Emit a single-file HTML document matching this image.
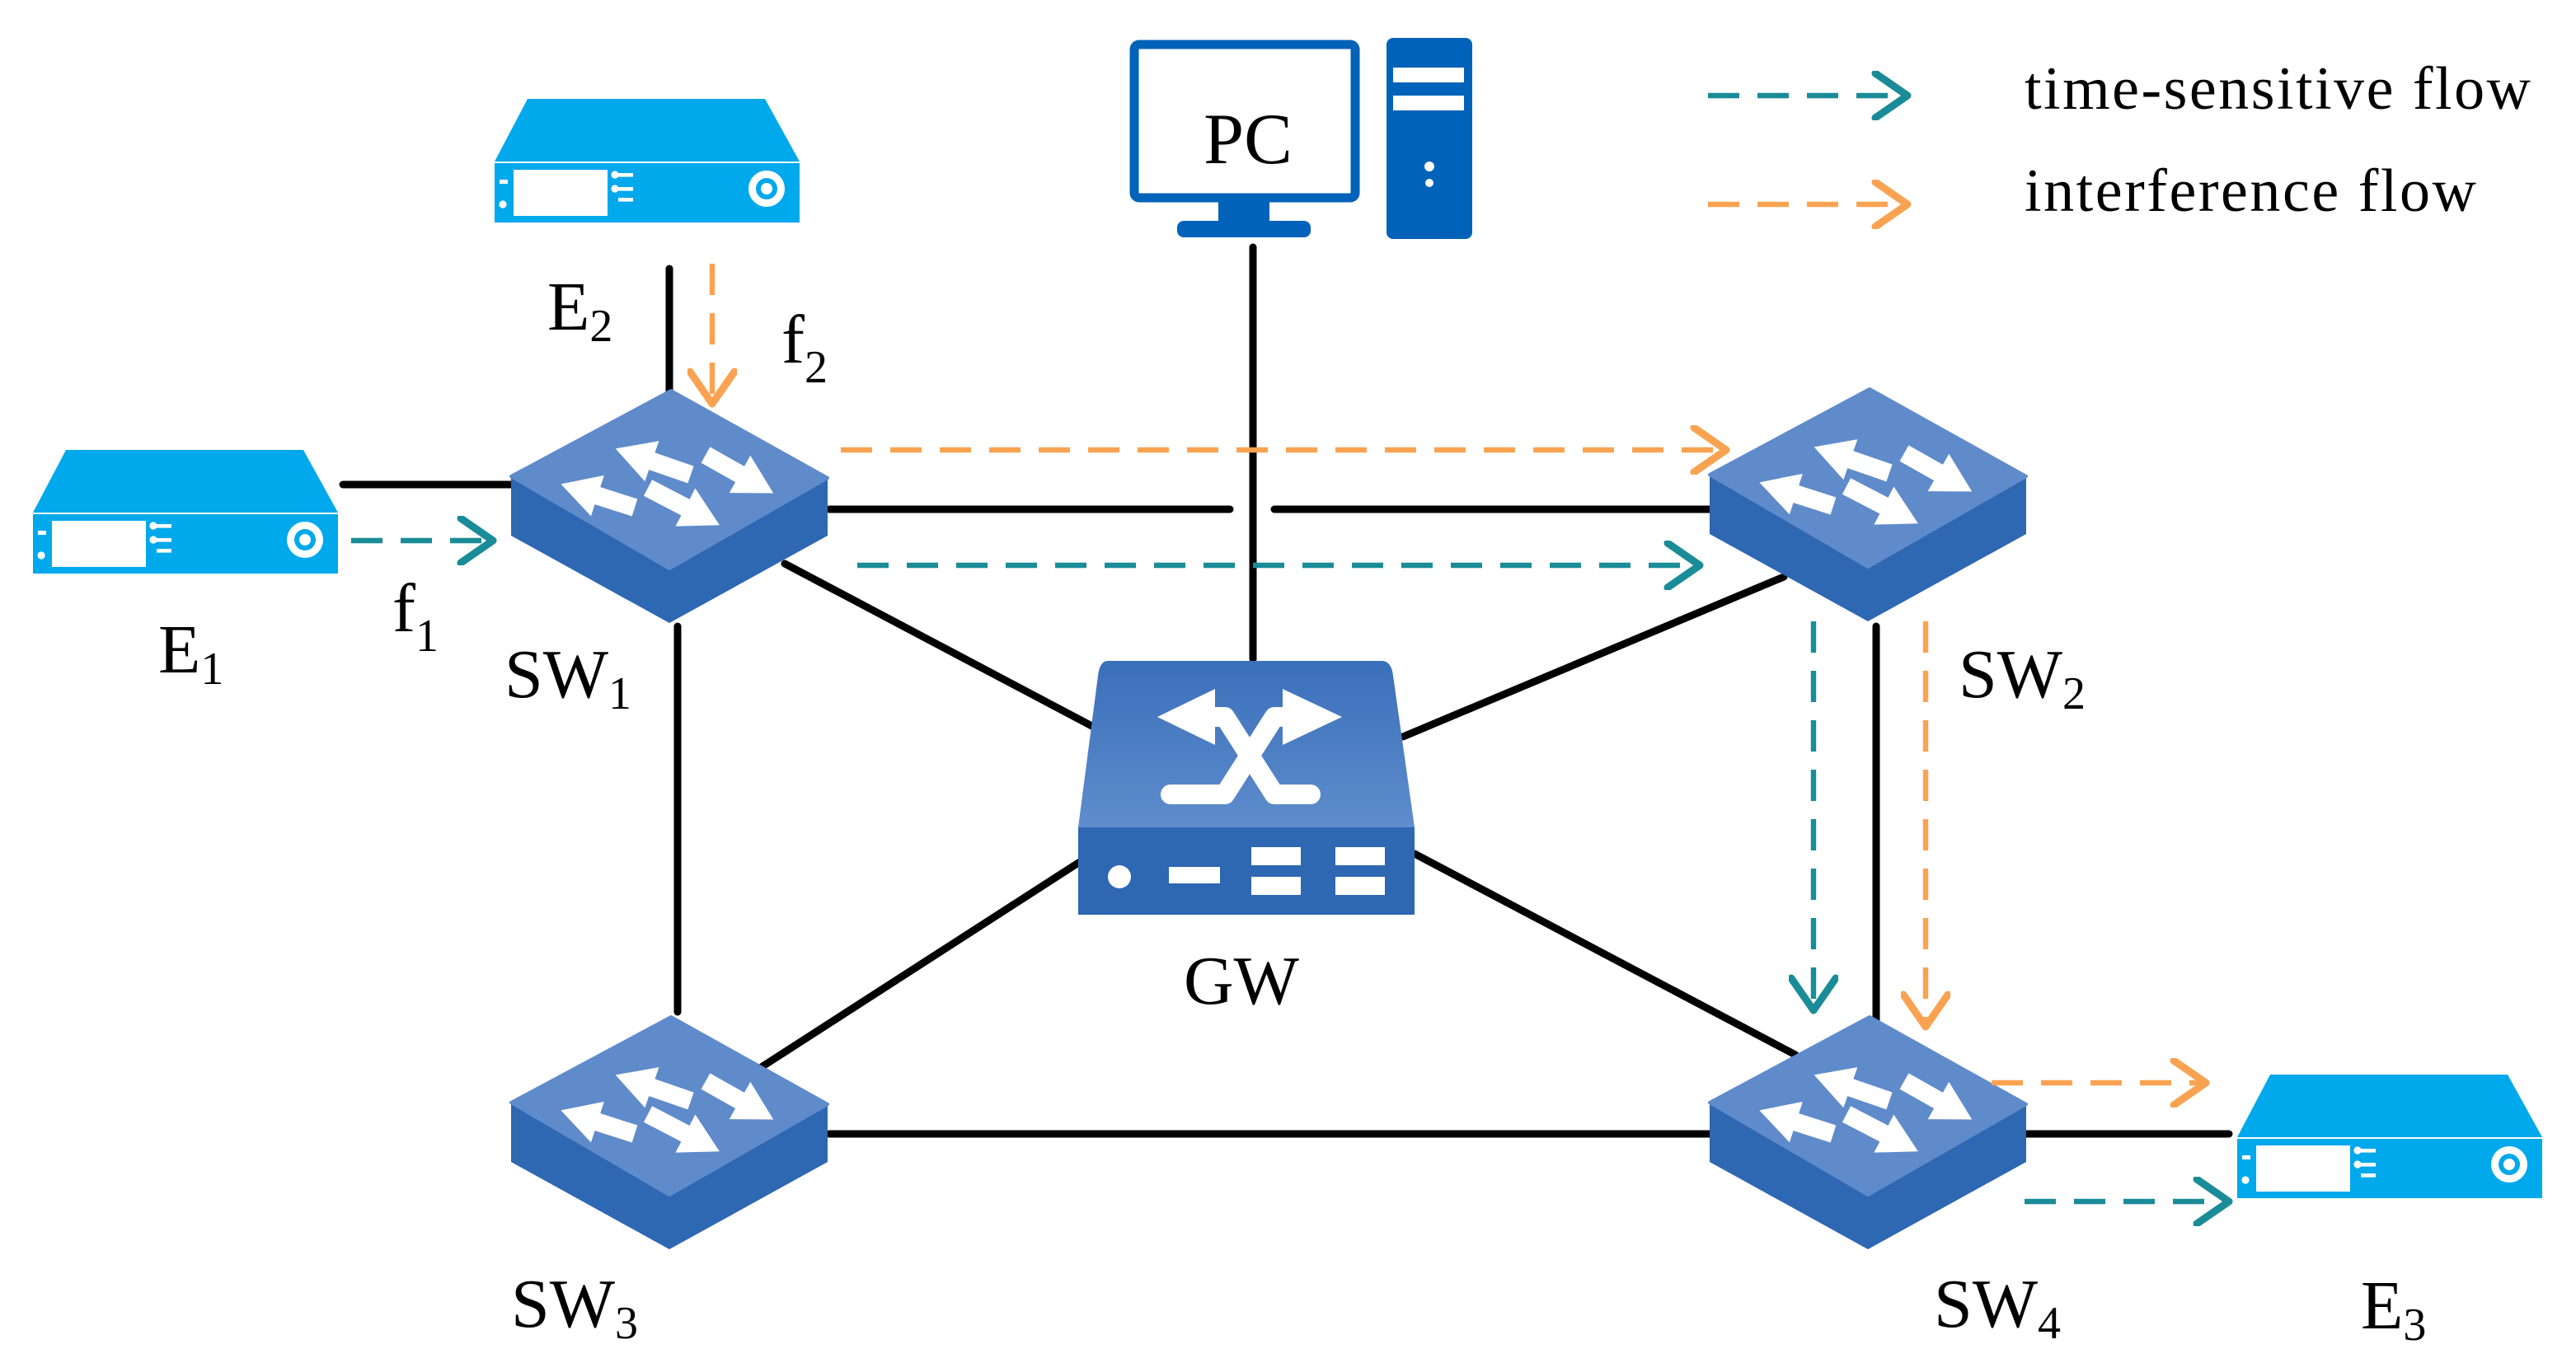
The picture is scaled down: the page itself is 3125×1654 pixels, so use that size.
<!DOCTYPE html>
<html><head><meta charset="utf-8"><style>html,body{margin:0;padding:0;background:#fff}svg{display:block}</style></head>
<body>
<svg width="3125" height="1654" viewBox="0 0 1562.5 827" xmlns="http://www.w3.org/2000/svg" font-family="'Liberation Serif', serif">
<defs>
<marker id="wh" markerUnits="userSpaceOnUse" markerWidth="26" markerHeight="28" refX="2" refY="10" orient="auto" viewBox="0 0 20 20">
<path d="M0,0 L18,10 L0,20 Z" fill="#fff"/></marker>
<marker id="ct" markerUnits="userSpaceOnUse" markerWidth="30" markerHeight="30" refX="14" refY="10" orient="auto" viewBox="0 0 16 20">
<path d="M1,1 L14,10 L1,19" fill="none" stroke="#1a8c98" stroke-width="3" stroke-linecap="round" stroke-linejoin="round"/></marker>
<marker id="co" markerUnits="userSpaceOnUse" markerWidth="30" markerHeight="30" refX="14" refY="10" orient="auto" viewBox="0 0 16 20">
<path d="M1,1 L14,10 L1,19" fill="none" stroke="#f9a352" stroke-width="3" stroke-linecap="round" stroke-linejoin="round"/></marker>
<g id="sw">
<path d="M-97,52 L-97,88 L-1,141 L95,88 L95,53 Z" fill="#2e67b2"/>
<path d="M0,0 L95,53 L-1,108 L-97,52 Z" fill="#5f8bcb" stroke="#5f8bcb" stroke-width="2" stroke-linejoin="round"/>
<g stroke="#fff" stroke-width="11" fill="none">
<line x1="12" y1="51" x2="-14" y2="42" marker-end="url(#wh)"/>
<line x1="-22" y1="71" x2="-47" y2="63" marker-end="url(#wh)"/>
<line x1="21" y1="39" x2="44" y2="52" marker-end="url(#wh)"/>
<line x1="-14" y1="59" x2="11" y2="72" marker-end="url(#wh)"/>
</g>
</g>
<g id="ed">
<path d="M20,0 L164,0 L185,38 L0,38 Z" fill="#00a8ec"/>
<rect x="0" y="39" width="185" height="36" fill="#00a8ec"/>
<rect x="11.5" y="43" width="57" height="28" fill="#fff"/>
<rect x="3" y="49" width="5" height="2.5" fill="#fff"/>
<circle cx="5" cy="64" r="2.3" fill="#fff"/>
<circle cx="73" cy="46" r="2.3" fill="#fff"/><rect x="75" y="45" width="9" height="2.3" fill="#fff"/>
<circle cx="73" cy="54.5" r="2.3" fill="#fff"/><rect x="75" y="53.5" width="9" height="2.3" fill="#fff"/>
<rect x="75" y="60" width="9" height="2.3" fill="#fff"/>
<circle cx="165" cy="54.5" r="11" fill="#fff"/><circle cx="165" cy="54.5" r="6.5" fill="#00a8ec"/><circle cx="165" cy="54.5" r="3.5" fill="#fff"/>
</g>
<linearGradient id="gg" x1="0" y1="0" x2="0" y2="1"><stop offset="0" stop-color="#3a6fba"/><stop offset="1" stop-color="#5f8dcd"/></linearGradient>
</defs>

<g stroke="#000" stroke-width="4.5" stroke-linecap="round" fill="none">
<line x1="208" y1="294" x2="314" y2="294"/>
<line x1="406" y1="163" x2="406" y2="238"/>
<line x1="760" y1="150" x2="760" y2="400"/>
<line x1="503" y1="309" x2="746" y2="309"/>
<line x1="773" y1="309" x2="1037" y2="309"/>
<line x1="476" y1="342" x2="667" y2="443"/>
<line x1="1082" y1="350" x2="851" y2="447"/>
<line x1="411" y1="380" x2="411" y2="614"/>
<line x1="1138" y1="380" x2="1138" y2="620"/>
<line x1="461" y1="648" x2="658" y2="521"/>
<line x1="1089" y1="640" x2="858" y2="518"/>
<line x1="503" y1="688" x2="1037" y2="688"/>
<line x1="1228" y1="688" x2="1352" y2="688"/>
</g>

<use href="#ed" x="20" y="273"/>
<use href="#ed" x="300" y="60"/>
<use href="#ed" x="1357" y="652"/>
<use href="#sw" x="407" y="237"/>
<use href="#sw" x="1134" y="236"/>
<use href="#sw" x="407" y="617"/>
<use href="#sw" x="1134" y="617"/>

<path d="M672,401 L838,401 Q844,401 845,410 L858,502 L654,502 L666,410 Q667,401 672,401 Z" fill="url(#gg)"/>
<rect x="654" y="502" width="204" height="53" fill="#2e67b2"/>
<path d="M702,435 L737,418 L737,452 Z M814,435 L778,418 L778,452 Z" fill="#fff"/>
<g stroke="#fff" stroke-width="12" fill="none" stroke-linecap="round" stroke-linejoin="round">
<path d="M733,435 H743 L773,482 H795"/>
<path d="M783,435 H773 L743,482 H710"/>
</g>
<circle cx="679" cy="532" r="7" fill="#fff"/>
<rect x="709" y="526" width="31" height="10" fill="#fff"/>
<rect x="759" y="514" width="30" height="11" fill="#fff"/>
<rect x="759" y="532" width="30" height="11" fill="#fff"/>
<rect x="810" y="514" width="30" height="11" fill="#fff"/>
<rect x="810" y="532" width="30" height="11" fill="#fff"/>

<rect x="688" y="27" width="134" height="93" rx="3" fill="none" stroke="#0062b8" stroke-width="5.5"/>
<rect x="739" y="122" width="31" height="12" fill="#0062b8"/>
<rect x="714" y="134" width="81" height="10" rx="4" fill="#0062b8"/>
<rect x="841" y="23" width="52" height="122" rx="4" fill="#0062b8"/>
<rect x="845" y="41" width="43" height="9" fill="#fff"/>
<rect x="845" y="58" width="43" height="9" fill="#fff"/>
<circle cx="867" cy="101" r="3" fill="#fff"/><circle cx="867" cy="111" r="2.5" fill="#fff"/>
<text x="757" y="99" font-size="44" text-anchor="middle">PC</text>

<g stroke-width="3.2" fill="none" stroke-dasharray="19 11">
<line x1="213" y1="328" x2="299" y2="328" stroke="#1a8c98" marker-end="url(#ct)"/>
<line x1="432" y1="160" x2="432" y2="245" stroke="#f9a352" marker-end="url(#co)"/>
<line x1="510" y1="273" x2="1047" y2="273" stroke="#f9a352" marker-end="url(#co)"/>
<line x1="520" y1="343" x2="1031" y2="343" stroke="#1a8c98" marker-end="url(#ct)"/>
<line x1="1100" y1="377" x2="1100" y2="613" stroke="#1a8c98" marker-end="url(#ct)"/>
<line x1="1168" y1="377" x2="1168" y2="623" stroke="#f9a352" marker-end="url(#co)"/>
<line x1="1208" y1="657" x2="1338" y2="657" stroke="#f9a352" marker-end="url(#co)"/>
<line x1="1228" y1="729" x2="1352" y2="729" stroke="#1a8c98" marker-end="url(#ct)"/>
<line x1="1036" y1="58" x2="1157" y2="58" stroke="#1a8c98" marker-end="url(#ct)"/>
<line x1="1036" y1="124" x2="1157" y2="124" stroke="#f9a352" marker-end="url(#co)"/>
</g>

<g font-size="42" fill="#000">
<text x="1228" y="66" font-size="37" textLength="307">time-sensitive flow</text>
<text x="1228" y="128" font-size="37" textLength="274">interference flow</text>
<text x="96" y="408">E<tspan font-size="28" dy="7">1</tspan></text>
<text x="332" y="200">E<tspan font-size="28" dy="7">2</tspan></text>
<text x="1432" y="806">E<tspan font-size="28" dy="7">3</tspan></text>
<text x="474" y="220">f<tspan font-size="28" dy="12">2</tspan></text>
<text x="238" y="383">f<tspan font-size="28" dy="12">1</tspan></text>
<text x="306" y="423">SW<tspan font-size="28" dy="7">1</tspan></text>
<text x="1188" y="423">SW<tspan font-size="28" dy="7">2</tspan></text>
<text x="310" y="805">SW<tspan font-size="28" dy="7">3</tspan></text>
<text x="1173" y="805">SW<tspan font-size="28" dy="7">4</tspan></text>
<text x="718" y="609">GW</text>
</g>
</svg>
</body></html>
